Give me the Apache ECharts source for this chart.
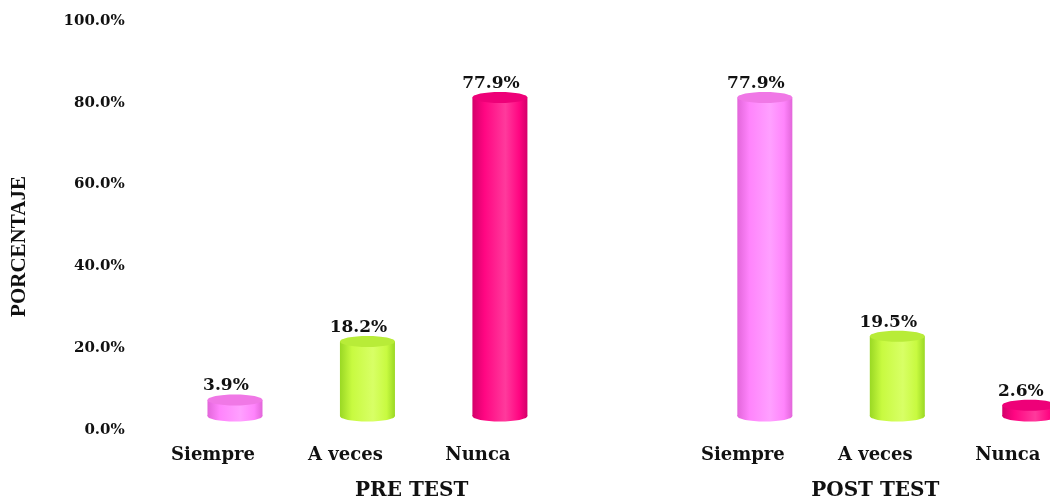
<!DOCTYPE html>
<html>
<head>
<meta charset="utf-8">
<script src="https://cdn.jsdelivr.net/npm/echarts@6/dist/echarts.min.js"></script>
<style>
  html, body { margin: 0; padding: 0; background: #fff; }
  #chart { width: 1050px; height: 502px; }
</style>
</head>
<body>
<div id="chart"></div>
<script>
// Answer options and the two test moments
const answers = ['Siempre', 'A veces', 'Nunca'];
const groups = ['PRE TEST', 'POST TEST'];
// Percentages per answer
const preTest = [3.9, 18.2, 77.9];
const postTest = [77.9, 19.5, 2.6];
// Value axis ticks
const yMax = 100;
const yStep = 20;

// Cylinder colours per answer: [edge, body, highlight, top]
const palette = [
  ['#e266da', '#ff84fc', '#ffa0ff', '#f078e6'],
  ['#9ad824', '#c8fa40', '#d8ff66', '#b8ec38'],
  ['#d4006a', '#ff0682', '#ff3a9c', '#ee0078']
];

// PRE TEST uses four slots (three answers plus a spacer), POST TEST three
const categories = answers.concat(['']).concat(answers);
const slotData = [];
preTest.forEach((v, i) => slotData.push([i, v, i]));
postTest.forEach((v, i) => slotData.push([answers.length + 1 + i, v, i]));

const FONT = 'DejaVu Serif';
// 3D depth shift of the cylinders relative to the axis frame
const DEPTH_X = 22, DEPTH_Y = -14;

const chart = echarts.init(document.getElementById('chart'));

function renderCylinder(params, api) {
  const slot = api.value(0);
  const val = api.value(1);
  const c = palette[api.value(2)];
  const top = api.coord([slot, val]);
  const base = api.coord([slot, 0]);
  const rx = 27.5;
  const ry = 5.5;
  const cx = top[0] + DEPTH_X;
  const yTop = top[1] + DEPTH_Y;
  const yBase = base[1] + DEPTH_Y;
  const side = new echarts.graphic.LinearGradient(0, 0, 1, 0, [
    { offset: 0, color: c[0] },
    { offset: 0.22, color: c[1] },
    { offset: 0.6, color: c[2] },
    { offset: 0.85, color: c[1] },
    { offset: 1, color: c[0] }
  ]);
  return {
    type: 'group',
    children: [
      { type: 'ellipse', shape: { cx: cx, cy: yBase, rx: rx, ry: ry }, style: { fill: side } },
      { type: 'rect', shape: { x: cx - rx, y: yTop, width: rx * 2, height: yBase - yTop }, style: { fill: side } },
      { type: 'ellipse', shape: { cx: cx, cy: yTop, rx: rx, ry: ry }, style: { fill: c[3] } },
      {
        type: 'text',
        style: {
          text: val.toFixed(1) + '%',
          x: cx - 9,
          y: yTop - 14,
          align: 'center',
          verticalAlign: 'middle',
          font: 'bold 17px "' + FONT + '"',
          fill: '#111'
        }
      }
    ]
  };
}

chart.setOption({
  animation: false,
  backgroundColor: '#ffffff',
  grid: { left: 146.75, right: -24, top: 21, bottom: 72, outerBoundsMode: 'none' },
  xAxis: {
    type: 'category',
    data: categories,
    axisLine: { show: false },
    axisTick: { show: false },
    axisLabel: {
      interval: 0,
      margin: 16,
      color: '#111',
      fontFamily: FONT,
      fontWeight: 'bold',
      fontSize: 18
    }
  },
  yAxis: {
    type: 'value',
    min: 0,
    max: yMax,
    interval: yStep,
    name: 'PORCENTAJE',
    nameLocation: 'middle',
    nameRotate: 90,
    nameGap: 117,
    nameTextStyle: {
      color: '#111',
      fontFamily: 'Liberation Serif',
      fontWeight: 'bold',
      fontSize: 21,
      padding: [0, 42, 0, 0]
    },
    axisLine: { show: false },
    axisTick: { show: false },
    splitLine: { show: false },
    axisLabel: {
      margin: 22,
      color: '#111',
      fontFamily: FONT,
      fontWeight: 'bold',
      fontSize: 15,
      formatter: v => v.toFixed(1) + '%'
    }
  },
  series: [{
    type: 'custom',
    renderItem: renderCylinder,
    encode: { x: 0, y: 1 },
    clip: false,
    data: slotData
  }]
});

// Group captions under each block of answers
const yCaption = 491;
const preX = (chart.convertToPixel({ xAxisIndex: 0 }, 1) + chart.convertToPixel({ xAxisIndex: 0 }, 2)) / 2;
const postX = chart.convertToPixel({ xAxisIndex: 0 }, answers.length + 2);
chart.setOption({
  graphic: [preX, postX].map((x, i) => ({
    type: 'text',
    x: x,
    y: yCaption,
    style: {
      text: groups[i],
      align: 'center',
      verticalAlign: 'middle',
      font: 'bold 20px "' + FONT + '"',
      fill: '#111'
    }
  }))
});
</script>
</body>
</html>
